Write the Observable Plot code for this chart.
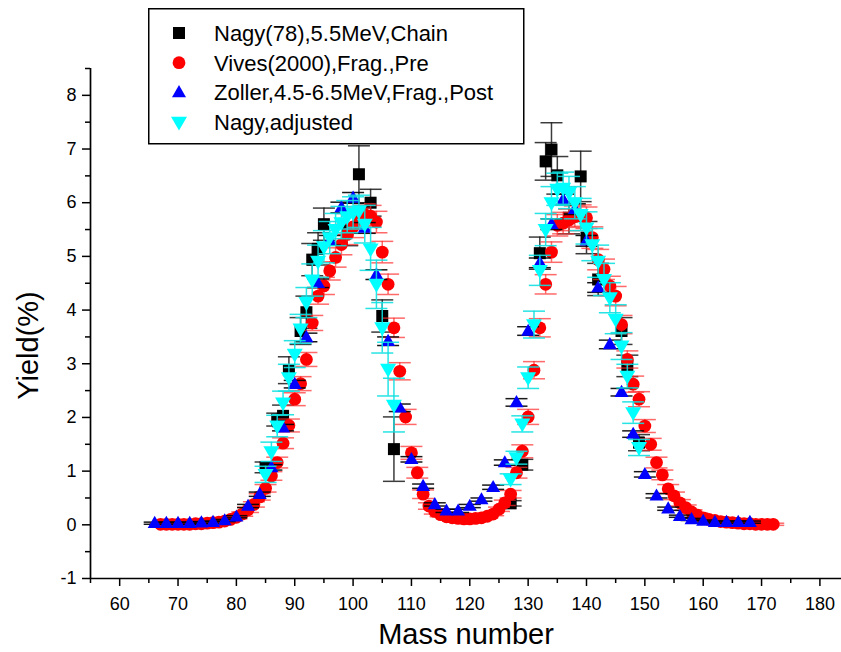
<!DOCTYPE html>
<html><head><meta charset="utf-8">
<script src="https://cdn.jsdelivr.net/npm/d3@7"></script>
<script src="https://cdn.jsdelivr.net/npm/@observablehq/plot@0.6"></script>
<style>
body{margin:0;background:#fff;}
#wrap{position:relative;width:841px;height:652px;font-family:"Liberation Sans",Arial,sans-serif;}
#legend{position:absolute;left:148px;top:8px;}
</style></head><body><div id="wrap"><div id="chart"></div><div id="legend"></div></div>
<script>
// ---------- data ----------
const legendLabels = ["Nagy(78),5.5MeV,Chain", "Vives(2000),Frag.,Pre", "Zoller,4.5-6.5MeV,Frag.,Post", "Nagy,adjusted"];
const xTicks = [60,70,80,90,100,110,120,130,140,150,160,170,180];
const xMinorTicks = [55,65,75,85,95,105,115,125,135,145,155,165,175];
const yTicks = [-1,0,1,2,3,4,5,6,7,8];
const yMinorTicks = [-0.5,0.5,1.5,2.5,3.5,4.5,5.5,6.5,7.5,8.5];

// Nagy(78) chain yields (black squares)
const massNagy  = [85,87,88,89,91,92,93,94,95,99,101,103,105,107,127,129,132,133,134,135,137,139,140,142,146,147,149];
const yieldNagy = [1.07,1.96,2.03,2.88,3.61,3.96,4.94,5.14,5.60,5.50,6.53,6.00,3.89,1.41,0.40,1.12,5.06,6.77,6.99,6.51,5.72,6.49,5.35,4.57,3.61,2.96,1.53];
const errNagy   = [0.10,0.12,0.20,0.25,0.25,0.30,0.30,0.30,0.30,0.30,0.53,0.25,0.30,0.60,0.05,0.10,0.30,0.35,0.50,0.35,0.30,0.47,0.30,0.30,0.25,0.20,0.15];

// Vives(2000) pre-neutron fragment yields (red circles)
const massVives = [67,68,69,70,71,72,73,74,75,76,77,78,79,80,81,82,83,84,85,86,87,88,89,90,91,92,93,94,95,96,97,98,99,100,101,102,103,104,105,106,107,108,109,110,111,112,113,114,115,116,117,118,119,120,121,122,123,124,125,126,127,128,129,130,131,132,133,134,135,136,137,138,139,140,141,142,143,144,145,146,147,148,149,150,151,152,153,154,155,156,157,158,159,160,161,162,163,164,165,166,167,168,169,170,171,172];
const yieldVives = [0.01,0.01,0.01,0.01,0.01,0.01,0.02,0.02,0.03,0.04,
  0.05,0.07,0.10,0.14,0.20,0.28,0.38,0.52,0.68,0.91,
  1.16,1.52,1.85,2.34,2.63,3.08,3.76,4.26,4.45,4.73,
  4.98,5.22,5.41,5.55,5.70,5.78,5.75,5.64,5.08,4.48,
  3.67,2.86,2.01,1.34,0.97,0.57,0.35,0.25,0.19,0.15,
  0.13,0.12,0.11,0.11,0.12,0.13,0.16,0.20,0.29,0.41,
  0.57,0.97,1.37,2.01,2.88,3.67,4.48,5.08,5.58,5.62,
  5.68,5.74,5.76,5.72,5.35,4.94,4.76,4.45,4.26,3.73,
  3.08,2.62,2.34,1.84,1.50,1.16,0.93,0.67,0.54,0.41,
  0.32,0.24,0.18,0.13,0.10,0.08,0.06,0.05,0.04,0.03,
  0.02,0.02,0.01,0.01,0.01,0.01];
const errVives = [0.01,0.01,0.01,0.01,0.01,0.01,0.01,0.01,0.01,0.01,
  0.02,0.02,0.03,0.03,0.04,0.05,0.05,0.06,0.07,0.08,
  0.10,0.10,0.12,0.12,0.13,0.13,0.14,0.15,0.16,0.17,
  0.18,0.19,0.19,0.20,0.20,0.20,0.20,0.20,0.20,0.19,
  0.18,0.16,0.14,0.12,0.10,0.08,0.06,0.05,0.04,0.03,
  0.03,0.03,0.03,0.03,0.03,0.03,0.03,0.03,0.04,0.05,
  0.07,0.10,0.12,0.14,0.16,0.17,0.18,0.19,0.20,0.20,
  0.20,0.20,0.20,0.20,0.20,0.19,0.19,0.18,0.18,0.17,
  0.16,0.15,0.14,0.12,0.11,0.10,0.09,0.08,0.07,0.06,
  0.05,0.04,0.04,0.03,0.03,0.02,0.02,0.02,0.02,0.02,
  0.02,0.02,0.02,0.02,0.02,0.02];

// Zoller post-neutron fragment yields (blue up-triangles)
const massZoller = [66,68,70,72,74,76,78,80,82,84,86,88,90,92,94,96,98,100,102,104,106,108,110,112,114,116,118,120,122,124,126,128,130,132,134,136,138,140,142,144,146,148,150,152,154,156,158,160,162,164,166,168];
const yieldZoller = [0.03,0.03,0.03,0.03,0.04,0.05,0.08,0.15,0.35,0.57,
  1.07,1.81,2.62,3.49,4.50,5.30,5.91,6.09,5.53,4.66,
  3.42,2.18,1.22,0.72,0.38,0.26,0.26,0.35,0.47,0.70,
  1.16,2.28,3.61,4.88,5.60,6.06,5.88,5.29,4.42,3.36,
  2.47,1.69,0.94,0.54,0.30,0.16,0.10,0.07,0.05,0.05,
  0.05,0.05];
const errZoller = [0.02,0.02,0.02,0.02,0.02,0.02,0.02,0.02,0.03,0.04,
  0.05,0.06,0.07,0.08,0.08,0.09,0.10,0.10,0.10,0.09,
  0.08,0.07,0.05,0.04,0.03,0.03,0.03,0.03,0.03,0.04,
  0.05,0.07,0.08,0.09,0.10,0.10,0.10,0.10,0.09,0.08,
  0.07,0.06,0.05,0.04,0.03,0.02,0.02,0.02,0.02,0.02,
  0.02,0.02];

// Nagy adjusted (cyan down-triangles)
const massAdj = [85,86,87,88,89,90,91,92,93,94,95,96,97,98,99,100,101,102,103,104,105,106,107,
  127,128,129,130,131,132,133,134,135,136,137,138,139,140,141,142,143,144,145,146,147,148,149];
const yieldAdj = [0.94,1.36,1.84,2.27,2.74,3.18,3.65,4.14,4.56,4.91,5.18,5.35,5.50,5.63,5.74,5.81,5.84,5.60,5.14,4.48,3.67,2.90,2.23,
  0.85,1.25,1.88,2.74,3.73,4.74,5.50,6.00,6.25,6.27,6.19,6.00,5.78,5.53,5.22,4.91,4.57,4.23,3.83,3.33,2.77,2.09,1.44];
const errAdj = [0.15,0.18,0.20,0.22,0.25,0.25,0.27,0.28,0.30,0.30,0.30,0.30,0.30,0.30,0.30,0.30,0.30,0.35,0.40,0.45,0.47,0.50,0.50,
  0.10,0.12,0.15,0.20,0.25,0.28,0.30,0.30,0.30,0.30,0.30,0.30,0.30,0.30,0.30,0.30,0.30,0.28,0.27,0.25,0.22,0.20,0.15];

// ---------- symbols ----------
const squareSym = {draw(c, s){ const r = Math.sqrt(s/Math.PI); c.rect(-r,-r,2*r,2*r); }};
const upTriSym = {draw(c, s){ const r = Math.sqrt(s/Math.PI); c.moveTo(0,-r*1.05); c.lineTo(r,r*0.68); c.lineTo(-r,r*0.68); c.closePath(); }};
const downTriSym = {draw(c, s){ const r = Math.sqrt(s/Math.PI); c.moveTo(0,r*1.05); c.lineTo(r,-r*0.68); c.lineTo(-r,-r*0.68); c.closePath(); }};
const capSym = {draw(c, s){ const r = Math.sqrt(s/Math.PI); c.moveTo(-r,0); c.lineTo(r,0); }};
const circleSym = d3.symbolCircle;

const series = [
  {label: legendLabels[0], mass: massNagy, yld: yieldNagy, err: errNagy, fill: "#000000", errStroke: "#1a1a1a", errOpacity: 0.85, sym: squareSym, r: 6},
  {label: legendLabels[1], mass: massVives, yld: yieldVives, err: errVives, fill: "#ff0000", errStroke: "#ff2a2a", errOpacity: 0.7, sym: circleSym, r: 6.4},
  {label: legendLabels[2], mass: massZoller, yld: yieldZoller, err: errZoller, fill: "#0000ff", errStroke: "#000000", errOpacity: 0.9, sym: upTriSym, r: 7},
  {label: legendLabels[3], mass: massAdj, yld: yieldAdj, err: errAdj, fill: "#00ffff", errStroke: "#10e0e0", errOpacity: 0.9, sym: downTriSym, r: 8}
];

const marks = [];
for (const s of series) {
  const rows = s.mass.map((m, i) => ({x: m, y: s.yld[i], e: s.err[i]}));
  const caps = rows.flatMap(d => [{x: d.x, y: d.y - d.e}, {x: d.x, y: d.y + d.e}]);
  marks.push(Plot.ruleX(rows, {x: "x", y1: d => d.y - d.e, y2: d => d.y + d.e, stroke: s.errStroke, strokeOpacity: s.errOpacity, strokeWidth: 1.5}));
  marks.push(Plot.dot(caps, {x: "x", y: "y", symbol: capSym, r: 11, fill: "none", stroke: s.errStroke, strokeOpacity: s.errOpacity, strokeWidth: 1.5}));
  marks.push(Plot.dot(rows, {x: "x", y: "y", symbol: s.sym, r: s.r, fill: s.fill, stroke: "none"}));
}

const chart = Plot.plot({
  width: 841, height: 652,
  marginLeft: 90, marginRight: 0, marginTop: 68, marginBottom: 74,
  x: {domain: [55, 183.7]},
  y: {domain: [-1, 8.5]},
  style: {fontFamily: "'Liberation Sans', Arial, sans-serif", fontSize: "18px", color: "#000", background: "#fff"},
  marks: [
    Plot.axisX({ticks: xTicks, tickSize: 8, tickPadding: 11, strokeWidth: 1.5, fontSize: 18, label: null, tickFormat: d => String(d)}),
    Plot.axisX({ticks: xMinorTicks, tickSize: 5, strokeWidth: 1.5, label: null, tickFormat: () => ""}),
    Plot.axisY({ticks: yTicks, tickSize: 8, tickPadding: 6, strokeWidth: 1.5, fontSize: 18, label: null, tickFormat: d => String(d)}),
    Plot.axisY({ticks: yMinorTicks, tickSize: 5, strokeWidth: 1.5, label: null, tickFormat: () => ""}),
    Plot.ruleY([-1], {stroke: "#000", strokeWidth: 1.7}),
    Plot.ruleX([55], {stroke: "#000", strokeWidth: 1.7}),
    ...marks,
    Plot.text(["Mass number"], {text: d => d, frameAnchor: "bottom", dy: 56, fontSize: 29, textAnchor: "middle", lineAnchor: "middle"}),
    Plot.text(["Yield(%)"], {text: d => d, frameAnchor: "left", dx: -62, dy: 22, rotate: -90, fontSize: 29, textAnchor: "middle", lineAnchor: "middle"})
  ]
});
document.getElementById("chart").appendChild(chart);

// ---------- legend ----------
const lg = d3.select("#legend").append("svg").attr("width", 378).attr("height", 138)
  .style("font-family", "'Liberation Sans', Arial, sans-serif");
lg.append("rect").attr("x", 0.75).attr("y", 0.75).attr("width", 375).attr("height", 135)
  .attr("fill", "#fff").attr("stroke", "#000").attr("stroke-width", 1.5);
series.forEach((s, i) => {
  const cy = 25 + i * 29.7;
  lg.append("path").attr("transform", `translate(31,${cy})`)
    .attr("d", d3.symbol(s.sym, Math.PI * s.r * s.r)()).attr("fill", s.fill);
  lg.append("text").attr("x", 66).attr("y", cy).attr("dy", "0.36em")
    .style("font-size", "22px").text(s.label);
});
</script>
</body></html>
